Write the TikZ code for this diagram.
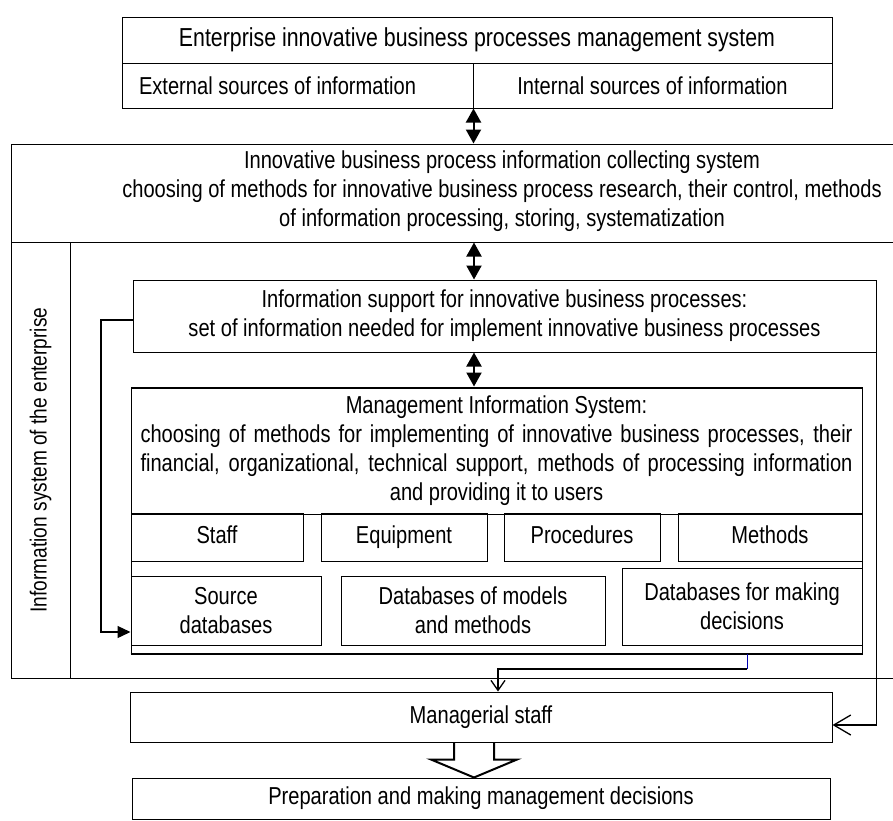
\documentclass[tikz,border=0pt]{standalone}
\usepackage{fontspec}
\setmainfont{Liberation Sans}[FakeStretch=0.82]
\usetikzlibrary{arrows.meta}
\newcommand\bodyfont{\fontsize{24.5pt}{29pt}\selectfont}

\begin{document}
\begin{tikzpicture}[x=1pt, y=-1pt, line width=1pt, font=\bodyfont,
  cell/.style={draw, inner sep=0pt, align=center},
  dbl/.style={{Triangle[length=14pt,width=15pt]}-{Triangle[length=14pt,width=15pt]}, line width=2pt},
  feed/.style={-{Triangle[length=13pt,width=12pt]}, line width=1.3pt},
  barb/.style={-{Straight Barb[length=10pt,width=14pt]}, line width=1.3pt}]
  \useasboundingbox (0,0) rectangle (893,820);
  \coordinate (axis) at (474,0);
  % sources
  \node[cell, minimum width=710pt, minimum height=46pt, font=\fontsize{26pt}{30pt}\selectfont] (ent) at (477,40) {Enterprise innovative business processes management system};
  \node[cell, minimum width=351pt, minimum height=45pt] (ext) at (297.5,85.5) {External sources of information\hspace{40pt}};
  \node[cell, minimum width=359pt, minimum height=45pt] (int) at (652.5,85.5) {Internal sources of information};
  % collecting system and enterprise frame
  \node[cell, minimum width=885pt, minimum height=98pt] (coll) at (453.5,193) {};
  \node[align=center] at (502,191) {Innovative business process information collecting system\\
    choosing of methods for innovative business process research, their control, methods\\
    of information processing, storing, systematization};
  \node[cell, minimum width=885pt, minimum height=436pt] (frame) at (453.5,460) {};
  \node[cell, rotate=90, minimum width=436pt, minimum height=59pt, font=\fontsize{23.3pt}{28pt}\selectfont] (isys) at (40.5,460) {Information system of the enterprise};
  \node[cell, minimum width=743pt, minimum height=72pt] (info) at (504.5,316) {Information support for innovative business processes:\\
    set of information needed for implement innovative business processes};
  % management information system
  \node[cell, minimum width=731pt, minimum height=266pt] (mis) at (496.5,520) {};
  \node[cell, minimum width=731pt, minimum height=126pt] (mishead) at (496.5,451) {Management Information System:\\
    \makebox[712pt][s]{choosing of methods for implementing of innovative business processes, their}\\
    \makebox[712pt][s]{financial, organizational, technical support, methods of processing information}\\
    and providing it to users};
  \draw[line width=2pt] (mis.south west) -- (mis.south east);
  \foreach \name/\cx/\w/\txt in {staff/217/172/Staff, equip/404/166/Equipment, proc/582/156/Procedures, meth/770/184/Methods}
    \node[cell, minimum width=\w pt, minimum height=48pt, text height=17pt, text depth=5pt] (\name) at (\cx,537) {\txt};
  \foreach \name/\cx/\cy/\w/\h/\txt in {src/226/610.5/190/69/{Source\\databases}, models/473/610.5/264/69/{Databases of models\\and methods}, dec/742/606.5/240/77/{Databases for making\\decisions}}
    \node[cell, minimum width=\w pt, minimum height=\h pt] (\name) at (\cx,\cy) {\txt};
  % staff and decisions
  \node[cell, minimum width=702pt, minimum height=50pt] (mgr) at (481,717) {Managerial staff};
  \node[cell, minimum width=698pt, minimum height=41pt] (prep) at (481,798.5) {Preparation and making management decisions};
  % connectors
  \draw[dbl] (ext.south east) -- (coll.north -| ext.south east);
  \draw[dbl] (coll.south -| axis) -- (info.north -| axis);
  \draw[dbl] (info.south -| axis) -- (mis.north -| axis);
  \coordinate (fb) at (101,632);
  \draw[feed] ([yshift=-4pt]info.west) -| (fb) -- (fb -| mis.west);
  \draw[barb, -{Straight Barb[length=17pt,width=20pt]}] (info.south east) |- ([yshift=-8pt]mgr.east);
  \coordinate (tap) at (747,669);
  \coordinate (drop) at (498,0);
  \draw[blue!70!black] (mis.south -| tap) -- (tap);
  \draw[barb] (tap) -| (mgr.north -| drop);
  \draw[line width=2pt] (mgr.south -| axis) ++(-20,0) -- ++(0,17) -- ++(-23,0) -- (prep.north -| axis) -- ++(43,-18) -- ++(-23,0) -- ++(0,-17);
\end{tikzpicture}
\end{document}
